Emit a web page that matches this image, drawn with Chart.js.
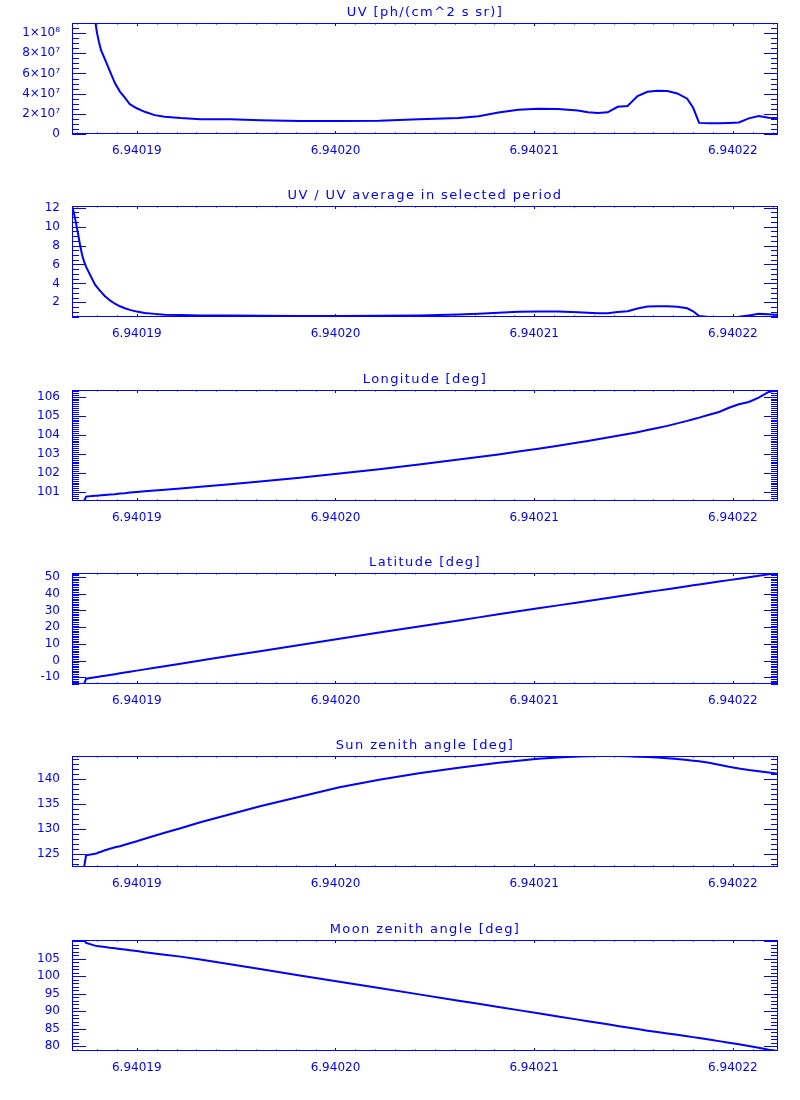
<!DOCTYPE html>
<html>
<head>
<meta charset="utf-8">
<script src="https://cdn.jsdelivr.net/npm/chart.js@4.4.1/dist/chart.umd.min.js"></script>
<style>
    body { margin: 0; background: #fff; }
    .panel { position: absolute; left: 0; width: 800px; height: 183px; }
</style>
</head>
<body>
<script>
// time axis (shared by all six panels)
const times = [
    6.94018674, 6.94018684, 6.94018694, 6.94018705, 6.94018715, 6.94018725, 6.94018735, 6.94018745,
    6.94018790, 6.94018800, 6.94018810, 6.94018820, 6.94018840, 6.94018865, 6.94018890, 6.94018915,
    6.94018940, 6.94018965, 6.94019000, 6.94019040, 6.94019090, 6.94019140, 6.94019220, 6.94019320,
    6.94019470, 6.94019620, 6.94019820, 6.94020020, 6.94020220, 6.94020420, 6.94020620, 6.94020720,
    6.94020820, 6.94020920, 6.94021020, 6.94021120, 6.94021220, 6.94021270, 6.94021320, 6.94021370,
    6.94021420, 6.94021470, 6.94021520, 6.94021570, 6.94021620, 6.94021670, 6.94021720, 6.94021770,
    6.94021800, 6.94021830, 6.94021880, 6.94021930, 6.94021980, 6.94022030, 6.94022080, 6.94022130,
    6.94022180, 6.94022227
];

const uvFlux = [
    3.30e8, 3.10e8, 2.83e8, 2.50e8, 2.18e8, 1.90e8, 1.70e8, 1.56e8,
    1.13e8, 1.00e8, 9.1e7, 8.3e7, 7.4e7, 6.2e7, 5.05e7, 4.2e7,
    3.6e7, 2.95e7, 2.55e7, 2.2e7, 1.87e7, 1.72e7, 1.58e7, 1.46e7,
    1.46e7, 1.36e7, 1.29e7, 1.29e7, 1.31e7, 1.45e7, 1.58e7, 1.77e7,
    2.12e7, 2.40e7, 2.50e7, 2.48e7, 2.33e7, 2.15e7, 2.07e7, 2.15e7,
    2.70e7, 2.78e7, 3.75e7, 4.18e7, 4.29e7, 4.25e7, 4.02e7, 3.50e7,
    2.60e7, 1.10e7, 1.06e7, 1.06e7, 1.10e7, 1.15e7, 1.55e7, 1.79e7,
    1.62e7, 1.56e7
];

const uvRatio = [
    12.18, 11.4, 10.4, 9.2, 8.0, 7.0, 6.3, 5.75,
    3.86, 3.6, 3.35, 3.1, 2.65, 2.2, 1.85, 1.58,
    1.38, 1.2, 1.02, 0.88, 0.78, 0.7, 0.65, 0.62,
    0.6, 0.58, 0.56, 0.56, 0.57, 0.62, 0.72, 0.79,
    0.9, 1.0, 1.03, 1.02, 0.95, 0.9, 0.84, 0.84,
    0.98, 1.06, 1.35, 1.57, 1.58, 1.58, 1.53, 1.37,
    1.05, 0.55, 0.46, 0.46, 0.46, 0.47, 0.62, 0.78,
    0.74, 0.67
];

const longitude = [
    100.53, 100.53, 100.53, 100.53, 100.53, 100.53, 100.53, 100.76,
    100.8, 100.81, 100.82, 100.83, 100.85, 100.87, 100.89, 100.92,
    100.94, 100.97, 101.0, 101.04, 101.08, 101.12, 101.19, 101.28,
    101.41, 101.55, 101.75, 101.97, 102.2, 102.44, 102.7, 102.84,
    102.97, 103.12, 103.27, 103.43, 103.6, 103.68, 103.77, 103.86,
    103.95, 104.04, 104.14, 104.25, 104.36, 104.47, 104.6, 104.73,
    104.82, 104.9, 105.05, 105.2, 105.42, 105.6, 105.72, 105.95,
    106.25, 106.35
];

const latitude = [
    -14.0, -14.0, -14.0, -14.0, -14.0, -14.0, -14.0, -10.8,
    -10.0, -9.8, -9.6, -9.4, -9.0, -8.55, -8.1, -7.6,
    -7.15, -6.7, -6.0, -5.25, -4.3, -3.4, -1.9, 0.0,
    2.85, 5.66, 9.39, 13.09, 16.77, 20.43, 24.06, 25.87,
    27.68, 29.47, 31.26, 33.05, 34.83, 35.71, 36.59, 37.48,
    38.36, 39.24, 40.13, 41.0, 41.88, 42.76, 43.63, 44.51,
    45.03, 45.55, 46.42, 47.29, 48.16, 49.02, 49.88, 50.75,
    51.6, 52.42
];

const sunZenith = [
    122.46, 122.46, 122.46, 122.46, 122.46, 122.46, 122.46, 124.8,
    125.1, 125.2, 125.4, 125.5, 125.8, 126.1, 126.4, 126.6,
    126.9, 127.2, 127.6, 128.1, 128.7, 129.3, 130.2, 131.4,
    133.0, 134.6, 136.5, 138.4, 139.9, 141.2, 142.3, 142.8,
    143.3, 143.7, 144.1, 144.35, 144.55, 144.62, 144.66, 144.66,
    144.64, 144.6, 144.53, 144.45, 144.35, 144.2, 144.05, 143.85,
    143.72, 143.6, 143.3, 142.9, 142.5, 142.15, 141.85, 141.6,
    141.35, 141.1
];

const moonZenith = [
    110.42, 110.42, 110.42, 110.42, 110.42, 110.42, 110.42, 109.6,
    108.8, 108.7, 108.65, 108.57, 108.4, 108.2, 108.05, 107.87,
    107.7, 107.5, 107.25, 106.9, 106.55, 106.2, 105.65, 104.85,
    103.43, 102.07, 100.26, 98.45, 96.64, 94.82, 93.01, 92.1,
    91.2, 90.3, 89.39, 88.48, 87.57, 87.13, 86.67, 86.22,
    85.77, 85.32, 84.86, 84.4, 84.0, 83.6, 83.2, 82.8,
    82.55, 82.3, 81.85, 81.4, 80.95, 80.5, 80.0, 79.5,
    78.95, 78.6
];

// tick labels
const xTicks = [6.94019, 6.94020, 6.94021, 6.94022];
const uvTicks = [0, 2e7, 4e7, 6e7, 8e7, 1e8];
const uvTickLabels = ['0', '2×10⁷', '4×10⁷', '6×10⁷', '8×10⁷', '1×10⁸'];
const ratioTicks = [2, 4, 6, 8, 10, 12];
const lonTicks = [101, 102, 103, 104, 105, 106];
const latTicks = [-10, 0, 10, 20, 30, 40, 50];
const sunTicks = [125, 130, 135, 140];
const moonTicks = [80, 85, 90, 95, 100, 105];

const BLUE = 'rgb(0, 0, 255)';
const X_MIN = 6.94018674, X_MAX = 6.94022227;

const panels = [
    { title: 'UV [ph/(cm^2 s sr)]', values: uvFlux, min: 0, max: 1.1e8, ticks: uvTicks, labels: uvTickLabels, minor: 5e6, every: 4 },
    { title: 'UV / UV average in selected period', values: uvRatio, min: 0.45, max: 12.18, ticks: ratioTicks, minor: 0.5, every: 4 },
    { title: 'Longitude [deg]', values: longitude, min: 100.53, max: 106.35, ticks: lonTicks, minor: 0.1, every: 10 },
    { title: 'Latitude [deg]', values: latitude, min: -14.0, max: 52.42, ticks: latTicks, minor: 1, every: 10 },
    { title: 'Sun zenith angle [deg]', values: sunZenith, min: 122.46, max: 144.66, ticks: sunTicks, minor: 1, every: 5 },
    { title: 'Moon zenith angle [deg]', values: moonZenith, min: 78.57, max: 110.42, ticks: moonTicks, minor: 1, every: 5 },
];

// IDL style box: frame, inward ticks on all four sides, title above
const idlFrame = {
    id: 'idlFrame',
    afterDraw(chart, args, opts) {
        const { ctx, chartArea: a, scales: { x, y } } = chart;
        ctx.save();
        ctx.strokeStyle = BLUE;
        ctx.lineWidth = 1;
        ctx.strokeRect(a.left + 0.5, a.top + 0.5, a.right - a.left - 1, a.bottom - a.top - 1);
        ctx.beginPath();
        // x ticks, minor every 1e-6
        for (let i = Math.ceil(x.min / 1e-6 - 1e-6); i <= Math.floor(x.max / 1e-6 + 1e-6); i++) {
            const px = Math.round(x.getPixelForValue(i * 1e-6)) + 0.5;
            const len = (i % 10 === 0) ? 3 : 1.5;
            ctx.moveTo(px, a.bottom); ctx.lineTo(px, a.bottom - len);
            ctx.moveTo(px, a.top); ctx.lineTo(px, a.top + len);
        }
        // y ticks
        const step = opts.minor;
        for (let i = Math.ceil(y.min / step - 1e-6); i <= Math.floor(y.max / step + 1e-6); i++) {
            const py = Math.round(y.getPixelForValue(i * step)) + 0.5;
            const len = (i % opts.every === 0) ? 14 : 7;
            ctx.moveTo(a.left, py); ctx.lineTo(a.left + len, py);
            ctx.moveTo(a.right, py); ctx.lineTo(a.right - len, py);
        }
        ctx.stroke();
        ctx.fillStyle = BLUE;
        ctx.font = '13px "DejaVu Sans"';
        ctx.letterSpacing = '1.4px';
        ctx.textAlign = 'center';
        ctx.textBaseline = 'alphabetic';
        ctx.fillText(opts.title, (a.left + a.right) / 2, a.top - 7);
        ctx.restore();
    }
};

const tops = [0, 183, 367, 550, 733, 917];

panels.forEach((p, idx) => {
    const div = document.createElement('div');
    div.className = 'panel';
    div.style.top = tops[idx] + 'px';
    const canvas = document.createElement('canvas');
    div.appendChild(canvas);
    document.body.appendChild(div);

    new Chart(canvas.getContext('2d'), {
        type: 'line',
        data: {
            labels: times,
            datasets: [{
                data: times.map((t, i) => ({ x: t, y: p.values[i] })),
                borderColor: BLUE,
                borderWidth: 2,
                pointRadius: 0,
                tension: 0,
                fill: false,
            }]
        },
        plugins: [idlFrame],
        options: {
            responsive: true,
            maintainAspectRatio: false,
            animation: false,
            layout: { padding: { top: 23, right: 22, left: 0, bottom: 0 } },
            plugins: {
                legend: { display: false },
                tooltip: { enabled: false },
                idlFrame: { title: p.title, minor: p.minor, every: p.every },
            },
            scales: {
                x: {
                    type: 'linear',
                    min: X_MIN,
                    max: X_MAX,
                    grid: { display: false },
                    border: { display: false },
                    afterBuildTicks: (scale) => { scale.ticks = xTicks.map(v => ({ value: v })); },
                    afterFit: (scale) => { scale.height = 49; },
                    ticks: {
                        autoSkip: false,
                        maxRotation: 0,
                        padding: 2,
                        color: BLUE,
                        font: { family: 'DejaVu Sans', size: 12 },
                        callback: (v) => v.toFixed(5),
                    },
                },
                y: {
                    type: 'linear',
                    min: p.min,
                    max: p.max,
                    grid: { display: false },
                    border: { display: false },
                    afterBuildTicks: (scale) => { scale.ticks = p.ticks.map(v => ({ value: v })); },
                    afterFit: (scale) => { scale.width = 72; },
                    ticks: {
                        autoSkip: false,
                        padding: 4,
                        color: BLUE,
                        font: { family: 'DejaVu Sans', size: 12 },
                        callback: (v, i) => p.labels ? p.labels[i] : String(v),
                    },
                },
            },
        },
    });
});
</script>
</body>
</html>
